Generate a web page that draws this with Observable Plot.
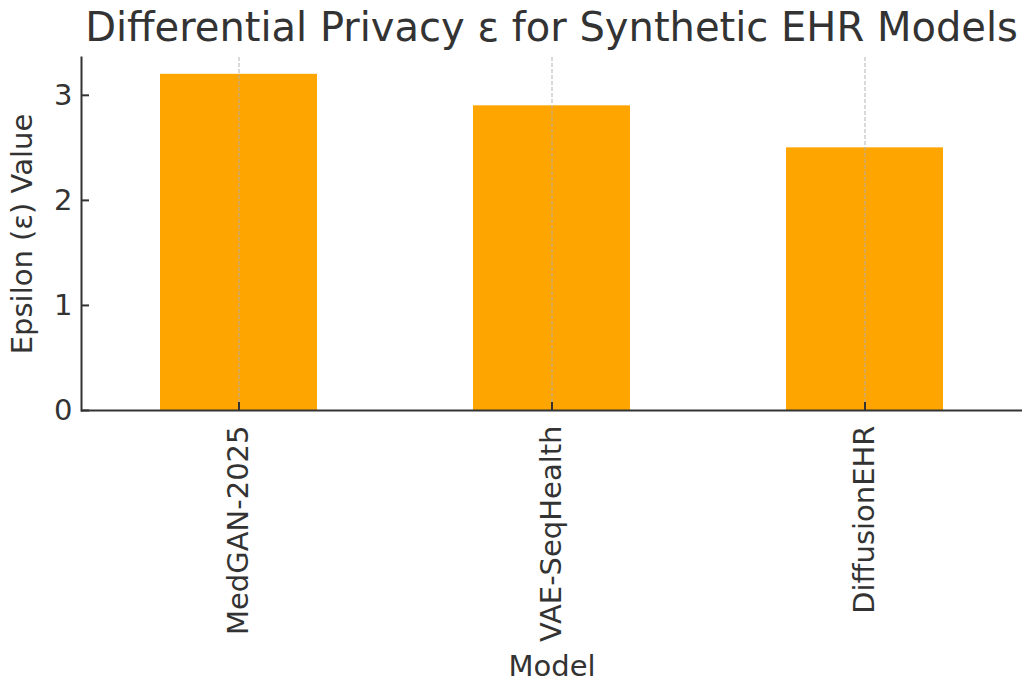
<!DOCTYPE html>
<html>
<head>
<meta charset="utf-8">
<script src="https://cdn.jsdelivr.net/npm/d3@7"></script>
<script src="https://cdn.jsdelivr.net/npm/@observablehq/plot@0.6"></script>
<style>
  html, body { margin: 0; padding: 0; background: #fff; }
  body { width: 1028px; height: 683px; overflow: hidden; font-family: "DejaVu Sans", sans-serif; }
  #title { height: 50px; box-sizing: border-box; padding-left: 81px; width: 1022px; text-align: center;
           font-size: 40px; line-height: 54px; color: #333; white-space: nowrap; overflow: visible; }
  #chart svg { display: block; }
</style>
</head>
<body>
<div id="title">Differential Privacy ε for Synthetic EHR Models</div>
<div id="chart"></div>
<script>
const models = ["MedGAN-2025", "VAE-SeqHealth", "DiffusionEHR"];
const epsilon = [3.2, 2.9, 2.5];
const yTicks = [0, 1, 2, 3];

const data = models.map((m, i) => ({model: m, eps: epsilon[i]}));

const W = 1028, H = 633;
const mL = 81, mR = 6, mT = 7, mB = 273;
const frameW = W - mL - mR, frameH = H - mT - mB;
const ink = "#333";

const chart = Plot.plot({
  width: W, height: H,
  marginLeft: mL, marginRight: mR, marginTop: mT, marginBottom: mB,
  style: {fontFamily: "DejaVu Sans, sans-serif", fontSize: "29px", color: ink, background: "#fff"},
  x: {domain: models, paddingInner: 0.5, paddingOuter: 0.25, align: 0.5},
  y: {domain: [0, 3.36]},
  marks: [
    Plot.barY(data, {x: "model", y: "eps", fill: "#FFA500"}),
    Plot.gridX(models, {stroke: "#b0b0b0", strokeOpacity: 0.8, strokeWidth: 1.2, strokeDasharray: "4,2"}),
    Plot.tickY(yTicks, {y: d => d, stroke: ink, strokeWidth: 2, insetRight: frameW - 8}),
    Plot.tickX(models, {x: d => d, stroke: ink, strokeWidth: 2, insetTop: frameH - 8}),
    Plot.frame({anchor: "left", stroke: ink, strokeWidth: 2}),
    Plot.ruleY([0], {stroke: ink, strokeWidth: 2}),
    Plot.axisY(yTicks, {tickSize: 0, tickPadding: 9, tickFormat: d => String(d), fill: ink,
      label: "Epsilon (ε) Value", labelAnchor: "center", labelOffset: 70, labelArrow: "none", fontSize: 29}),
    Plot.axisX({tickSize: 0, tickPadding: 15, tickRotate: -90, fill: ink,
      label: "Model", labelAnchor: "center", labelOffset: 265, labelArrow: "none", fontSize: 29})
  ]
});
document.getElementById("chart").appendChild(chart);
</script>
</body>
</html>
